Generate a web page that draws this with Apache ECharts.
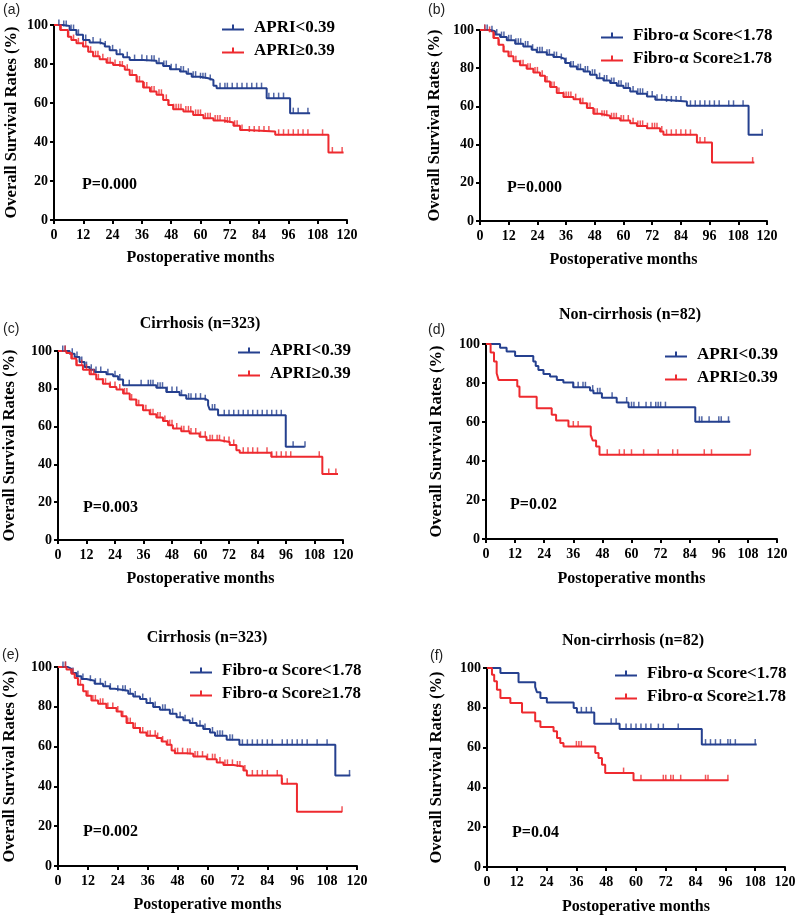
<!DOCTYPE html>
<html><head><meta charset="utf-8">
<script src="https://cdn.jsdelivr.net/npm/echarts@6/dist/echarts.min.js"></script>
<style>html,body{margin:0;padding:0;background:#fff}#c{width:800px;height:918px}</style>
</head><body><div id="c"></div>
<script>
// ---- DATA: Kaplan-Meier step points [month, survival %] and censor times ----
const xTicks = [0,12,24,36,48,60,72,84,96,108,120];
const yTicks = [0,20,40,60,80,100];
const nameAPRIlo = 'APRI<0.39', nameAPRIhi = 'APRI\u22650.39';
const nameFiblo = 'Fibro-\u03b1 Score<1.78', nameFibhi = 'Fibro-\u03b1 Score\u22651.78';
const panelTitles = ['', '', 'Cirrhosis (n=323)', 'Non-cirrhosis (n=82)', 'Cirrhosis (n=323)', 'Non-cirrhosis (n=82)'];
const panelLetters = ['(a)','(b)','(c)','(d)','(e)','(f)'];
const pValues = ['P=0.000','P=0.000','P=0.003','P=0.02','P=0.002','P=0.04'];

const a_lo = [[0,100],[3.7,99.5],[6.4,97.4],[9.2,95],[11.9,92.3],[14.6,91],[18.7,90.3],[20.8,89],[22.8,87],[25.6,85],[28.3,83.4],[31,82],[36.5,81.7],[42,80.4],[44.7,79],[47.5,77.3],[51.6,76.1],[54.3,75],[56.4,73.5],[59.8,72.7],[63.2,71.8],[65.3,68.8],[66.6,67.6],[87.1,62.5],[96.7,54.8],[104.9,54.8]];
const a_lo_c = [2,4,5,7,8,10,13,16,19,21,24,27,30,33,36,38,40,41,43,45,46,48,50,52,53,55,57,58,60,61,62,64,68,70,71,73,75,77,79,81,83,85,88,90,92,94,98,100,104];
const a_hi = [[0,100],[2.5,97.4],[5.7,94],[7.1,92.3],[9.2,90.6],[11.9,89],[14,86.3],[16,84],[18.7,82.4],[21.5,80.7],[24.2,79.5],[26.9,78.7],[29,77],[31,74.4],[33.8,71],[36.5,68],[39.3,65.9],[42,64.2],[44.7,61.6],[46.8,59],[48.8,56.8],[53,55.6],[57,53.9],[61.2,52.2],[65.3,51],[69.4,50],[73.5,48.3],[76.2,46.2],[78.9,45.4],[90.6,43.7],[112.4,34.6],[118.6,34.6]];
const a_hi_c = [3,6,8,10,12,13,15,17,18,20,22,23,25,27,28,30,32,34,35,37,38,40,41,43,44,46,47,49,50,51,52,54,55,56,58,59,60,62,63,64,66,67,68,70,71,72,74,75,77,80,82,84,86,88,92,94,96,98,100,102,104,110,114,118];

const b_lo = [[0,100],[4.2,99.3],[6.3,97.6],[8.4,96.3],[11.2,94.6],[14.7,92.8],[18.1,91.4],[21.6,89.7],[23.7,88.3],[27.9,87.1],[30.7,85.8],[33.5,84.8],[35.6,82.7],[37.7,80.9],[40.5,79.5],[43.3,78.3],[46,76.6],[48.8,74.8],[51.6,73.6],[54.4,72.2],[57.2,70.8],[60,69.6],[62.8,67.8],[65.6,66.6],[69.8,65.2],[73.3,63.5],[76.7,62.6],[86.5,60.3],[112.3,45.1],[118.3,45.1]];
const b_lo_c = [2,3,5,7,9,10,12,13,15,16,17,19,20,22,24,25,26,28,29,31,32,34,36,38,39,41,42,44,45,47,48,50,52,53,55,56,58,59,61,62,64,66,67,68,70,72,74,76,78,80,82,84,88,90,92,94,96,98,100,104,106,110,118];
const b_hi = [[0,100],[3.5,99],[5.6,95.8],[7.7,92.3],[9.8,88.8],[11.9,86.2],[14,83.6],[16.7,81.5],[19.5,79.7],[22.3,77.8],[25.1,76],[27.2,73.1],[29.3,70.1],[32.1,67],[34.9,64.9],[39.1,63.8],[41.9,61.7],[44.7,59.1],[47.4,56.1],[50.2,55.1],[54.4,53.8],[58.6,52.6],[62.8,51.2],[65.6,49.8],[69.8,48.6],[75.3,46.9],[76.7,45.1],[90.7,41.1],[97,30.6],[114.7,30.6]];
const b_hi_c = [2,4,6,8,10,12,13,15,17,18,20,21,23,24,26,28,30,31,33,35,36,37,38,40,42,43,45,46,48,49,51,52,53,55,56,57,59,60,62,64,66,67,68,70,72,73,74,76,78,80,82,84,86,88,92,94,114];

const c_lo = [[0,100],[4.9,98.6],[7,96.8],[9.1,94.2],[11.2,91.5],[13.3,90.1],[15.4,88.9],[20.4,87.7],[23.2,86.6],[25.3,84.9],[27.4,81.9],[41.4,80.6],[45.6,78.3],[51.2,76.6],[54,74.8],[61.8,73.9],[63.2,71.3],[63.9,69],[67.4,66],[95.9,49.3],[103.9,49.3]];
const c_lo_c = [2,3,6,8,10,12,14,16,18,21,24,26,30,35,38,39,40,42,43,44,46,48,50,52,55,56,58,60,62,65,66,70,72,74,76,78,80,82,84,86,88,90,92,94,99,104];
const c_hi = [[0,100],[3.5,98.9],[5.6,96],[7.7,92.4],[10.5,90.1],[13.3,87.7],[16.1,85],[18.9,82.7],[21.8,81],[24.6,79.6],[27.4,77.5],[30.2,74.3],[33,71.3],[35.8,68.7],[38.6,66.5],[41.4,64.8],[44.2,63],[46.3,60.7],[48.4,59],[51.9,57.6],[55.4,56.3],[59.6,54.6],[62.5,52.8],[68.1,51.9],[72.3,50.2],[75.1,47.5],[76.5,46.1],[89.8,44],[111.3,34.9],[117.9,34.9]];
const c_hi_c = [3,6,8,10,12,14,15,17,19,20,22,24,26,28,29,31,33,34,36,37,39,40,42,43,45,47,48,50,52,53,55,56,58,60,62,64,65,67,68,70,72,74,78,80,82,84,88,90,92,94,96,98,110,114,117];

const d_lo = [[0,100],[5.8,98.1],[8.5,96.1],[12,93.9],[19.5,91],[20.5,88.7],[21.6,86.7],[23.7,84.6],[26.4,83.3],[29.2,81.6],[31.9,80.2],[36,77.8],[42.9,76.1],[44.3,74.7],[47.8,72.5],[53.9,70],[58.8,67.6],[86.3,60.1],[100.7,60.1]];
const d_lo_c = [36,38,40,41,44,46,47,52,58,60,61,63,66,68,70,71,72,74,88,89,92,96,97,100];
const d_hi = [[0,100],[1.9,95.7],[3.3,91],[4.4,85],[5.2,81.6],[12.9,78.2],[13.8,73],[20.9,67],[27.1,63.7],[28.9,60.8],[34,57.7],[43.2,53.4],[44,50.5],[45.4,47.4],[46.8,43.2],[109,43.2]];
const d_hi_c = [36,38,50,55,57,60,65,71,77,79,90,93,109];

const e_lo = [[0,100],[4,99],[5.4,97],[7.4,95.3],[9.4,94],[11.4,93.1],[14.7,91.6],[18.1,90.3],[20.8,89.1],[22.8,88.1],[28.2,86.6],[30.2,85.2],[32.9,83.9],[35.5,81.9],[38.2,79.9],[40.9,78.5],[44.9,76.5],[47.6,74.8],[50.3,73.2],[52.9,71.8],[55.6,70.5],[58.3,68.8],[61,67.1],[63,65.4],[67.7,63.4],[72.8,60.9],[111.3,45.5],[117.3,45.5]];
const e_lo_c = [2,3,6,8,10,13,15,17,19,21,24,26,27,29,31,34,37,39,42,43,46,49,51,54,57,59,62,64,65,66,69,70,74,76,78,80,82,84,86,90,92,94,96,98,100,104,108,117];
const e_hi = [[0,100],[3.4,98.7],[5.4,96.6],[6.7,94.5],[8,91.1],[10.1,87.8],[11.4,85.6],[13.4,83.2],[16.1,81.5],[19.4,79.4],[23.5,77.7],[25.5,75.2],[27.5,71.8],[30.2,69.3],[32.9,67.1],[35.5,65.4],[39.6,64.3],[41.6,62.6],[43.6,60.9],[45.6,58.1],[46.9,56.7],[51.6,56.4],[54.3,55],[59.7,53.7],[63.7,52],[66.4,50.8],[70.4,50],[74.4,48],[75.8,45.5],[89.8,41.3],[95.9,27.3],[114,27.3]];
const e_hi_c = [3,6,9,12,14,15,17,18,20,22,24,26,28,29,31,33,34,36,37,39,40,42,44,45,47,48,50,52,53,55,56,58,60,62,63,65,67,68,70,72,73,75,78,80,82,84,88,90,92,114];

const f_lo = [[0,100],[5.4,97.5],[12.7,92.8],[19.4,90.5],[20.1,87.8],[21.5,84.9],[24.1,82.7],[34.9,79.9],[36.2,77.7],[43.2,72],[53.4,69.3],[86.5,61.5],[108.6,61.5]];
const f_lo_c = [38,40,42,50,52,56,58,60,62,64,66,69,71,77,88,90,92,94,97,98,100,108];
const f_hi = [[0,100],[2,96.6],[2.9,93.3],[4,89.1],[5.4,84.9],[9.4,82.4],[14.1,77.7],[19.4,73.2],[21.5,70.4],[26.8,68.2],[28.2,64.8],[29.5,62.3],[30.8,60.6],[43.6,57.3],[44.9,54.8],[46.3,51.4],[47.6,47.2],[59,43.6],[97.2,43.6]];
const f_hi_c = [36,37,38,55,62,71,72,74,75,78,88,89,97];

// ---- LAYOUT / STYLE ----
const FONT = 'Liberation Serif';
const BLUE = '#25408f', RED = '#ee2a2f';
const panels = [
  {lo:a_lo, loC:a_lo_c, hi:a_hi, hiC:a_hi_c, names:[nameAPRIlo,nameAPRIhi], grid:{left:54,top:25,width:293,height:195}, yGap:34, xGap:30, leg:{left:222,top:19}, p:[82,185], t:null, L:[3,3]},
  {lo:b_lo, loC:b_lo_c, hi:b_hi, hiC:b_hi_c, names:[nameFiblo,nameFibhi], grid:{left:480,top:30,width:287,height:191}, yGap:37, xGap:31, leg:{left:601,top:27}, p:[507,188], t:null, L:[428,3]},
  {lo:c_lo, loC:c_lo_c, hi:c_hi, hiC:c_hi_c, names:[nameAPRIlo,nameAPRIhi], grid:{left:58,top:351,width:285,height:189}, yGap:40, xGap:31, leg:{left:238,top:342}, p:[83,508], t:[200,324], L:[3,322]},
  {lo:d_lo, loC:d_lo_c, hi:d_hi, hiC:d_hi_c, names:[nameAPRIlo,nameAPRIhi], grid:{left:486,top:344,width:291,height:195}, yGap:41, xGap:32, leg:{left:665,top:346}, p:[510,505], t:[630,315], L:[428,323]},
  {lo:e_lo, loC:e_lo_c, hi:e_hi, hiC:e_hi_c, names:[nameFiblo,nameFibhi], grid:{left:58,top:667,width:299,height:199}, yGap:40, xGap:31, leg:{left:190,top:662}, p:[83,832], t:[207,638], L:[2,648]},
  {lo:f_lo, loC:f_lo_c, hi:f_hi, hiC:f_hi_c, names:[nameFiblo,nameFibhi], grid:{left:487,top:668,width:298,height:199}, yGap:42, xGap:32, leg:{left:615,top:665}, p:[512,833], t:[633,641], L:[430,649]}
];

function stepVal(curve, t){ let v = curve[0][1]; for (const [x,y] of curve){ if (x <= t) v = y; else break; } return v; }

const axisLineStyle = {lineStyle:{color:'#000', width:2}};
const tickStyle = {show:true, length:4, lineStyle:{color:'#000', width:2}};
const labelStyle = {color:'#000', fontFamily:FONT, fontWeight:'bold', fontSize:14};
const grids=[], xAxes=[], yAxes=[], series=[], legends=[], graphics=[];

panels.forEach((P,i)=>{
  grids.push(Object.assign({}, P.grid));
  xAxes.push({gridIndex:i, type:'value', min:xTicks[0], max:xTicks[xTicks.length-1], interval:12,
    axisLine:axisLineStyle, axisTick:tickStyle, splitLine:{show:false},
    axisLabel:Object.assign({margin:8}, labelStyle),
    name:'Postoperative months', nameLocation:'middle', nameGap:P.xGap,
    nameTextStyle:{color:'#000', fontFamily:FONT, fontWeight:'bold', fontSize:16}});
  yAxes.push({gridIndex:i, type:'value', min:yTicks[0], max:yTicks[yTicks.length-1], interval:20,
    axisLine:axisLineStyle, axisTick:tickStyle, splitLine:{show:false},
    axisLabel:Object.assign({margin:6}, labelStyle),
    name:'Overall Survival Rates (%)', nameLocation:'middle', nameGap:P.yGap,
    nameTextStyle:{color:'#000', fontFamily:FONT, fontWeight:'bold', fontSize:16.5}});
  [[P.lo,P.loC,BLUE,P.names[0]],[P.hi,P.hiC,RED,P.names[1]]].forEach(([curve,cens,col,nm])=>{
    series.push({type:'line', name:nm, xAxisIndex:i, yAxisIndex:i, step:'end', data:curve, showSymbol:false, symbol:'none',
      lineStyle:{color:col, width:2}, itemStyle:{color:col}, z:3, silent:true});
    series.push({type:'scatter', name:nm+' censored', xAxisIndex:i, yAxisIndex:i, data:cens.map(t=>[t, stepVal(curve,t)]),
      symbol:'rect', symbolSize:[1.5,6], symbolOffset:[0,-2.5], itemStyle:{color:col}, z:4, silent:true});
  });
  legends.push({left:P.leg.left, top:P.leg.top, orient:'vertical', data:[P.names[0], P.names[1]], padding:0,
    icon:'path://M0,4H22V6H0ZM10,0H12V5H10Z', itemWidth:22, itemHeight:6, itemGap:6, selectedMode:false,
    textStyle:{color:'#000', fontFamily:FONT, fontWeight:'bold', fontSize:17, lineHeight:17, padding:[0,0,0,5]}});
  graphics.push({type:'text', left:P.p[0], top:P.p[1]-8, style:{text:pValues[i], fill:'#000', font:'bold 16px "Liberation Serif"'}});
  graphics.push({type:'text', left:P.L[0], top:P.L[1], style:{text:panelLetters[i], fill:'#222', font:'14px "Liberation Sans"'}});
  if (P.t) graphics.push({type:'text', x:P.t[0], y:P.t[1], style:{text:panelTitles[i], fill:'#000', font:'bold 16px "Liberation Serif"', align:'center', verticalAlign:'middle'}});
});

const chart = echarts.init(document.getElementById('c'), null, {renderer:'canvas'});
chart.setOption({animation:false, backgroundColor:'#fff', grid:grids, xAxis:xAxes, yAxis:yAxes, series:series, legend:legends, graphic:graphics});
</script></body></html>
